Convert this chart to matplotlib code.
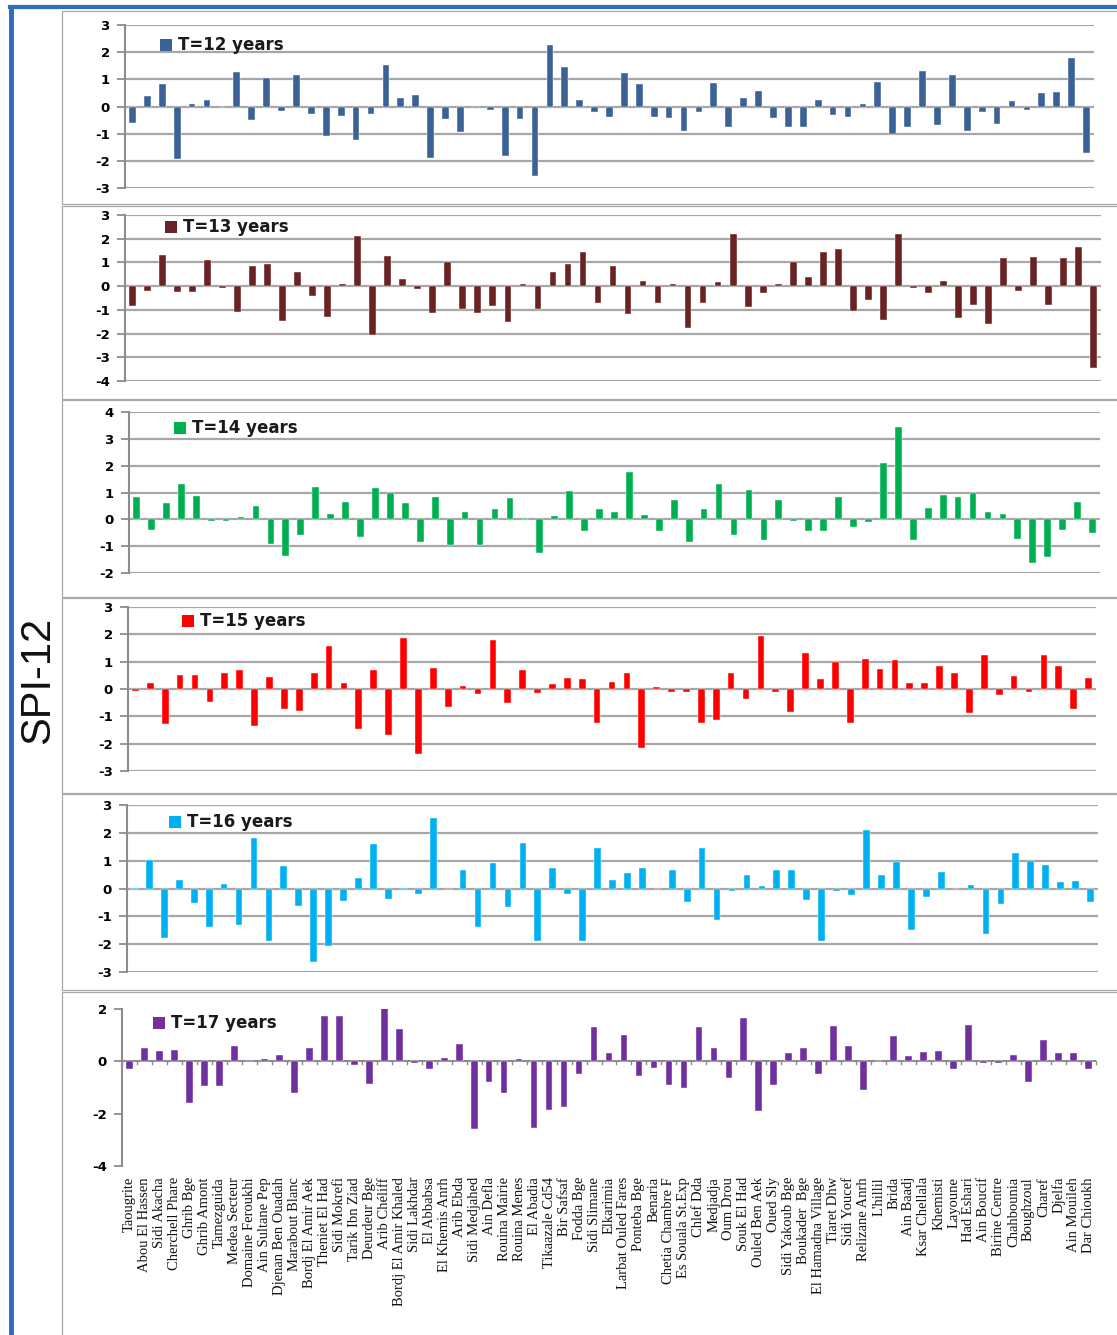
import matplotlib
matplotlib.use("Agg")
import matplotlib.pyplot as plt
from matplotlib.patches import Rectangle
from matplotlib.lines import Line2D
import numpy as np

plt.rcParams["axes.unicode_minus"] = False

W, H = 1117, 1335

stations = [
    "Taougrite", "Abou El Hassen", "Sidi Akacha", "Cherchell Phare", "Ghrib Bge",
    "Ghrib Amont", "Tamezguida", "Medea Secteur", "Domaine Feroukhi", "Ain Sultane Pep",
    "Djenan Ben Ouadah", "Marabout Blanc", "Bordj El Amir Aek", "Theniet El Had",
    "Sidi Mokrefi", "Tarik Ibn Ziad", "Deurdeur Bge", "Arib Chéliff",
    "Bordj El Amir Khaled", "Sidi Lakhdar", "El Abbabsa", "El Khemis Anrh", "Arib Ebda",
    "Sidi Medjahed", "Ain Defla", "Rouina Mairie", "Rouina Menes", "El Abadia",
    "Tikaazale Cd54", "Bir Safsaf", "Fodda Bge", "Sidi Slimane", "Elkarimia",
    "Larbat Ouled Fares", "Ponteba Bge", "Benaria", "Chetia Chambre F",
    "Es Souala St.Exp", "Chlef Dda", "Medjadja", "Oum Drou", "Souk El Had",
    "Ouled Ben Aek", "Oued Sly", "Sidi Yakoub Bge", "Boukader  Bge",
    "El Hamadna Village", "Tiaret Dhw", "Sidi Youcef", "Relizane Anrh", "L'hillil",
    "Brida", "Ain Baadj", "Ksar Chellala", "Khemisti", "Layoune", "Had Eshari",
    "Ain Boucif", "Birine Centre", "Chahbounia", "Boughzoul", "Charef", "Djelfa",
    "Ain Mouileh", "Dar Chioukh",
]

spi_t12 = [-0.59, 0.40, 0.83, -1.94, 0.09, 0.25, 0.0, 1.26, -0.49, 1.06,
           -0.17, 1.16, -0.27, -1.09, -0.36, -1.22, -0.27, 1.54, 0.30, 0.43,
           -1.89, -0.46, -0.95, -0.04, -0.12, -1.84, -0.46, -2.57, 2.27, 1.46,
           0.25, -0.22, -0.37, 1.25, 0.82, -0.37, -0.41, -0.90, -0.22, 0.87,
           -0.74, 0.30, 0.58, -0.41, -0.74, -0.74, 0.25, -0.32, -0.37, 0.10,
           0.91, -1.01, -0.74, 1.30, -0.69, 1.16, -0.90, -0.22, -0.65, 0.21,
           -0.12, 0.48, 0.54, 1.77, -1.70]

spi_t13 = [-0.85, -0.20, 1.32, -0.26, -0.26, 1.11, -0.06, -1.08, 0.84, 0.94,
           -1.47, 0.61, -0.43, -1.29, 0.11, 2.10, -2.08, 1.27, 0.30, -0.10,
           -1.12, 1.01, -0.98, -1.12, -0.85, -1.52, 0.11, -0.98, 0.61, 0.94,
           1.44, -0.70, 0.84, -1.19, 0.23, -0.70, 0.10, -1.75, -0.70, 0.16,
           2.21, -0.87, -0.31, 0.10, 1.00, 0.40, 1.44, 1.55, -1.04, -0.60,
           -1.41, 2.21, -0.06, -0.31, 0.23, -1.35, -0.81, -1.59, 1.17, -0.21,
           1.22, -0.81, 1.17, 1.65, -3.47]

spi_t14 = [0.83, -0.40, 0.60, 1.32, 0.88, -0.06, -0.06, 0.10, 0.51, -0.92,
           -1.36, -0.59, 1.22, 0.21, 0.66, -0.64, 1.17, 1.00, 0.60, -0.83,
           0.83, -0.97, 0.26, -0.97, 0.37, 0.80, 0.06, -1.27, 0.11, 1.05,
           -0.45, 0.37, 0.27, 1.77, 0.16, -0.45, 0.71, -0.83, 0.37, 1.33,
           -0.59, 1.08, -0.78, 0.71, -0.06, -0.45, -0.45, 0.85, -0.30, -0.11,
           2.10, 3.44, -0.78, 0.41, 0.90, 0.85, 0.98, 0.27, 0.21, -0.73,
           -1.61, -1.41, -0.40, 0.66, -0.50]

spi_t15 = [-0.08, 0.22, -1.28, 0.50, 0.50, -0.48, 0.60, 0.70, -1.37, 0.45,
           -0.72, -0.82, 0.60, 1.59, 0.22, -1.47, 0.70, -1.70, 1.87, -2.37,
           0.78, -0.67, 0.12, -0.20, 1.78, -0.51, 0.70, -0.16, 0.17, 0.40,
           0.35, -1.24, 0.26, 0.59, -2.15, 0.06, -0.11, -0.11, -1.24, -1.15,
           0.59, -0.38, 1.95, -0.10, -0.83, 1.30, 0.35, 0.98, -1.24, 1.11,
           0.72, 1.06, 0.21, 0.21, 0.83, 0.59, -0.87, 1.24, -0.21, 0.49,
           -0.10, 1.24, 0.83, -0.73, 0.39]

spi_t16 = [0.02, 1.03, -1.77, 0.30, -0.51, -1.40, 0.16, -1.30, 1.83, -1.87,
           0.80, -0.62, -2.64, -2.06, -0.44, 0.39, 1.60, -0.39, 0.02, -0.18,
           2.52, -0.06, 0.66, -1.40, 0.90, -0.66, 1.65, -1.87, 0.75, -0.18,
           -1.90, 1.44, 0.29, 0.57, 0.72, 0.0, 0.65, -0.47, 1.44, -1.12,
           -0.10, 0.50, 0.10, 0.65, 0.65, -0.43, -1.90, -0.10, -0.25, 2.10,
           0.50, 0.97, -1.50, -0.32, 0.60, 0.0, 0.12, -1.65, -0.57, 1.27,
           1.00, 0.85, 0.25, 0.28, -0.50]

spi_t17 = [-0.30, 0.50, 0.38, 0.45, -1.60, -0.95, -0.95, 0.60, 0.05, 0.10,
           0.25, -1.20, 0.50, 1.75, 1.75, -0.15, -0.85, 2.05, 1.25, -0.05,
           -0.30, 0.12, 0.65, -2.60, -0.80, -1.20, 0.10, -2.55, -1.85, -1.75,
           -0.50, 1.30, 0.30, 1.00, -0.55, -0.25, -0.90, -1.00, 1.30, 0.50,
           -0.65, 1.65, -1.90, -0.90, 0.30, 0.50, -0.50, 1.35, 0.60, -1.10,
           0.0, 0.95, 0.20, 0.35, 0.40, -0.30, 1.40, -0.05, -0.05, 0.25,
           -0.80, 0.80, 0.30, 0.30, -0.30]

series_labels = ["T=12 years", "T=13 years", "T=14 years",
                 "T=15 years", "T=16 years", "T=17 years"]
series_values = [spi_t12, spi_t13, spi_t14, spi_t15, spi_t16, spi_t17]
series_colors = ["#3A6297", "#6A2222", "#00B050", "#FF0000", "#00B0F0", "#7030A0"]
y_limits = [(-3, 3), (-4, 3), (-2, 4), (-3, 3), (-3, 3), (-4, 2)]
y_steps = [1, 1, 1, 1, 1, 2]

# pixel layout: plot area (left, right, top, bottom), frame (top, bottom), legend (x, y)
plot_areas = [(125, 1094, 25, 188), (125, 1101, 215, 381), (129, 1100, 412, 573),
              (128, 1096, 607, 771), (127, 1098, 805, 972), (122, 1096, 1009, 1166)]
frames = [(11, 204), (206, 399), (400, 597), (598, 793), (794, 990), (992, 1340)]
legend_xy = [(166, 45), (171, 227), (180, 428), (188, 621), (175, 822), (159, 1023)]

fig = plt.figure(figsize=(W / 100, H / 100), dpi=100)
fig.patch.set_facecolor("white")


def fx(x):
    return x / W


def fy(y):
    return 1 - y / H


grid_col = "#A6A6A6"
x = np.arange(len(stations))

for i in range(6):
    l, r, t, b = plot_areas[i]
    ft, fb = frames[i]
    # panel frame
    fig.add_artist(Rectangle((fx(62), fy(fb)), fx(1130 - 62), (fb - ft) / H,
                             transform=fig.transFigure, fill=False,
                             edgecolor="#A8A8A8", lw=0.9, zorder=0))
    ax = fig.add_axes([fx(l), fy(b), fx(r - l), (b - t) / H])
    ax.set_facecolor("none")
    vals = series_values[i]
    ax.bar(x, vals, width=0.45, color=series_colors[i], zorder=3,
           edgecolor="white", linewidth=0.3)
    ax.set_xlim(-0.5, len(stations) - 0.5)
    lo, hi = y_limits[i]
    ax.set_ylim(lo, hi)
    ax.set_yticks(np.arange(lo, hi + 1, y_steps[i]))
    for s in ["top", "right", "bottom"]:
        ax.spines[s].set_visible(False)
    ax.spines["left"].set_color("#8C8C8C")
    ax.spines["left"].set_linewidth(1.5)
    ax.tick_params(axis="y", length=6, width=1.3, color="#8C8C8C",
                   labelsize=9.5, pad=5)
    for lab in ax.get_yticklabels():
        lab.set_fontweight("bold")
        lab.set_family("DejaVu Sans")
    if i < 5:
        ax.yaxis.grid(True, color=grid_col, lw=1.6, zorder=1)
        ax.set_xticks([])
    else:
        ax.axhline(0, color="#8C8C8C", lw=1.5, zorder=2)
        ax.set_xticks(x)
        ax.set_xticklabels(stations, rotation=90, family="Liberation Serif",
                           fontsize=10.5, color="#111111")
        ax.tick_params(axis="x", length=0, pad=8)
        for k in range(len(stations) + 1):
            ax.plot([k - 0.5, k - 0.5], [0, -0.12], color="#8C8C8C", lw=1.0,
                    zorder=2, clip_on=False)
    # legend key and text
    lx, ly = legend_xy[i]
    fig.add_artist(Rectangle((fx(lx - 6), fy(ly + 6)), 12 / W, 12 / H,
                             transform=fig.transFigure,
                             facecolor=series_colors[i], edgecolor="none"))
    fig.text(fx(lx + 12), fy(ly), series_labels[i], fontsize=12,
             fontweight="bold", family="DejaVu Sans", va="center", ha="left",
             color="#1A1A1A")

# outer blue frame
blue = "#2E6DB8"
fig.add_artist(Line2D([fx(11), fx(11)], [0, fy(7)], color=blue, lw=3.5,
                      transform=fig.transFigure))
fig.add_artist(Line2D([fx(10), 1], [fy(7), fy(7)], color=blue, lw=3,
                      transform=fig.transFigure))

fig.text(fx(38), fy(680), "SPI-12", rotation=90, fontsize=30,
         family="Liberation Sans", ha="center", va="center", color="#111111")

fig.savefig("out.png", dpi=100, facecolor="white")
